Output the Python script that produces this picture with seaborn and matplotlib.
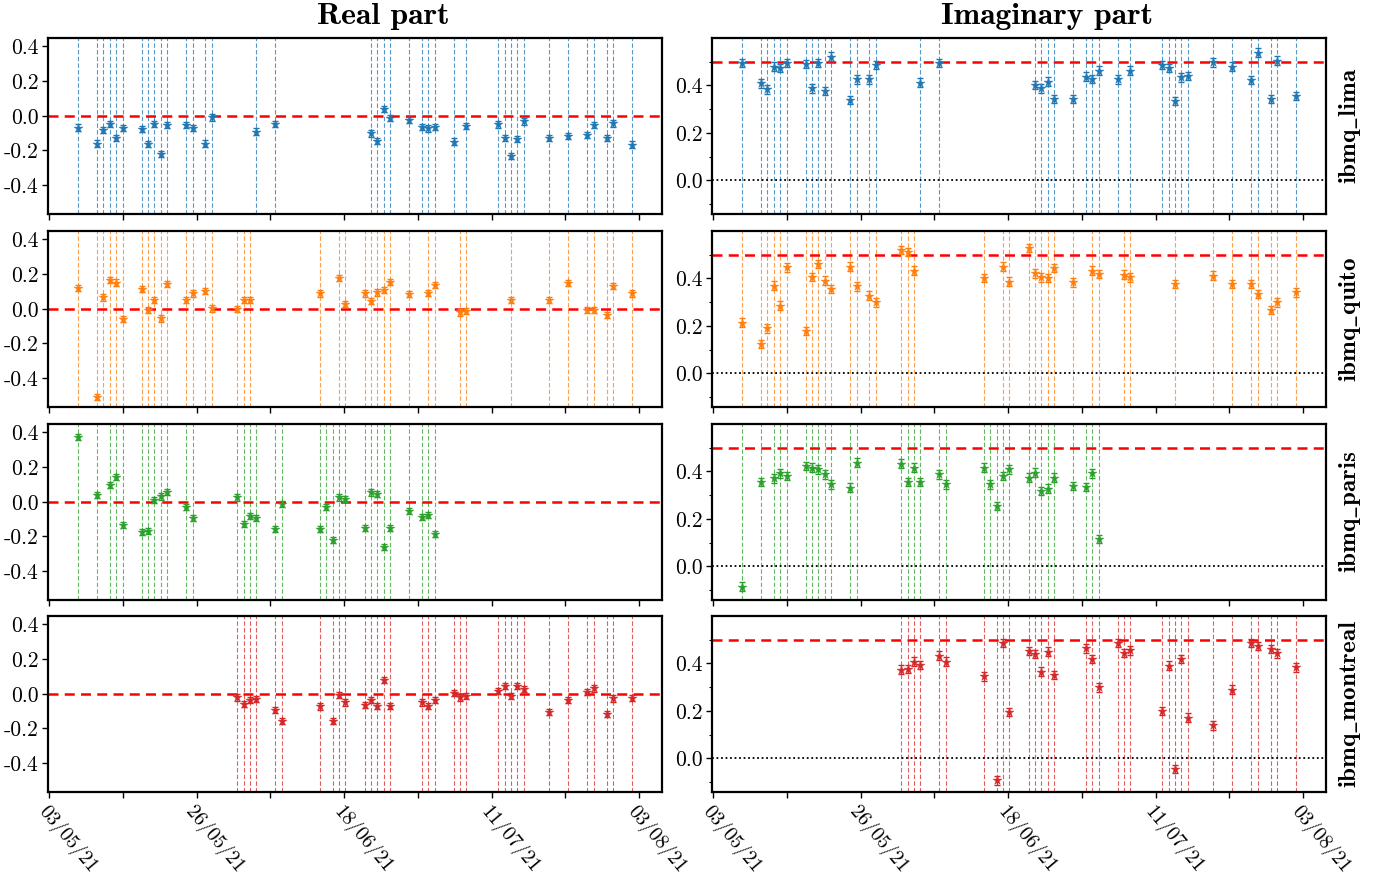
import numpy as np
import pandas as pd
import matplotlib
matplotlib.use("Agg")
import matplotlib.pyplot as plt
import seaborn as sns
from matplotlib.ticker import MultipleLocator, FormatStrFormatter
from matplotlib.mathtext import MathTextParser
from matplotlib.font_manager import FontProperties

# ---------------- data ----------------
lima_dates = ['2021-05-07','2021-05-10','2021-05-11','2021-05-12','2021-05-13','2021-05-14','2021-05-17','2021-05-18',
              '2021-05-19','2021-05-20','2021-05-21','2021-05-24','2021-05-25','2021-05-27','2021-05-28','2021-06-04',
              '2021-06-07','2021-06-22','2021-06-23','2021-06-24','2021-06-25','2021-06-28','2021-06-30','2021-07-01',
              '2021-07-02','2021-07-05','2021-07-07','2021-07-12','2021-07-13','2021-07-14','2021-07-15','2021-07-16',
              '2021-07-20','2021-07-23','2021-07-26','2021-07-27','2021-07-29','2021-07-30','2021-08-02']
lima_re = [-0.068,-0.16,-0.083,-0.048,-0.13,-0.07,-0.075,-0.164,-0.046,-0.222,-0.054,-0.054,-0.07,-0.16,-0.01,-0.091,
           -0.048,-0.102,-0.145,0.039,-0.015,-0.025,-0.064,-0.073,-0.064,-0.149,-0.058,-0.05,-0.126,-0.23,-0.135,-0.033,
           -0.126,-0.118,-0.112,-0.054,-0.126,-0.044,-0.166]
lima_im = [0.493,0.408,0.383,0.479,0.472,0.493,0.489,0.387,0.493,0.377,0.521,0.338,0.425,0.425,0.486,0.411,0.493,
           0.401,0.387,0.415,0.342,0.342,0.437,0.427,0.462,0.425,0.462,0.486,0.472,0.335,0.434,0.439,0.496,0.479,
           0.423,0.538,0.342,0.504,0.356]

quito_dates = ['2021-05-07','2021-05-10','2021-05-11','2021-05-12','2021-05-13','2021-05-14','2021-05-17','2021-05-18',
               '2021-05-19','2021-05-20','2021-05-21','2021-05-24','2021-05-25','2021-05-27','2021-05-28','2021-06-01',
               '2021-06-02','2021-06-03','2021-06-14','2021-06-17','2021-06-18','2021-06-21','2021-06-22','2021-06-23',
               '2021-06-24','2021-06-25','2021-06-28','2021-07-01','2021-07-02','2021-07-06','2021-07-07','2021-07-14',
               '2021-07-20','2021-07-23','2021-07-26','2021-07-27','2021-07-29','2021-07-30','2021-08-02']
quito_re = [0.119,-0.509,0.065,0.165,0.151,-0.06,0.113,-0.008,0.05,-0.056,0.144,0.05,0.088,0.103,0.002,-0.002,0.05,
            0.052,0.088,0.176,0.027,0.088,0.046,0.094,0.107,0.155,0.084,0.09,0.136,-0.021,-0.011,0.05,0.05,0.147,
            -0.006,-0.008,-0.036,0.132,0.088]
quito_im = [0.214,0.123,0.19,0.369,0.285,0.446,0.179,0.405,0.461,0.39,0.355,0.449,0.366,0.327,0.299,0.52,0.51,0.432,
            0.401,0.449,0.386,0.528,0.421,0.404,0.401,0.444,0.383,0.432,0.418,0.415,0.404,0.376,0.411,0.376,0.376,
            0.334,0.266,0.299,0.341]

paris_dates = ['2021-05-07','2021-05-10','2021-05-12','2021-05-13','2021-05-14','2021-05-17','2021-05-18','2021-05-19',
               '2021-05-20','2021-05-21','2021-05-24','2021-05-25','2021-06-01','2021-06-02','2021-06-03','2021-06-04',
               '2021-06-07','2021-06-08','2021-06-14','2021-06-15','2021-06-16','2021-06-17','2021-06-18','2021-06-21',
               '2021-06-22','2021-06-23','2021-06-24','2021-06-25','2021-06-28','2021-06-30','2021-07-01','2021-07-02']
paris_re = [0.371,0.04,0.098,0.142,-0.132,-0.174,-0.17,0.011,0.031,0.056,-0.031,-0.094,0.025,-0.126,-0.084,-0.094,
            -0.155,-0.011,-0.157,-0.031,-0.222,0.025,0.017,-0.151,0.054,0.046,-0.26,-0.151,-0.052,-0.088,-0.075,-0.184]
paris_im = [-0.085,0.355,0.37,0.392,0.38,0.423,0.415,0.408,0.387,0.345,0.331,0.437,0.432,0.356,0.415,0.355,0.387,
            0.345,0.415,0.345,0.254,0.38,0.408,0.373,0.394,0.317,0.327,0.373,0.338,0.334,0.392,0.115]

montreal_dates = ['2021-06-01','2021-06-02','2021-06-03','2021-06-04','2021-06-07','2021-06-08','2021-06-14','2021-06-16',
                  '2021-06-17','2021-06-18','2021-06-21','2021-06-22','2021-06-23','2021-06-24','2021-06-25','2021-06-30',
                  '2021-07-01','2021-07-02','2021-07-05','2021-07-06','2021-07-07','2021-07-12','2021-07-13','2021-07-14',
                  '2021-07-15','2021-07-16','2021-07-20','2021-07-23','2021-07-26','2021-07-27','2021-07-29','2021-07-30',
                  '2021-08-02']
montreal_re = [-0.021,-0.059,-0.036,-0.03,-0.092,-0.159,-0.073,-0.155,-0.008,-0.05,-0.063,-0.036,-0.069,0.08,-0.069,
               -0.05,-0.069,-0.036,0.004,-0.021,-0.015,0.017,0.046,-0.015,0.046,0.027,-0.103,-0.034,0.011,0.031,
               -0.117,-0.027,-0.025]
montreal_im = [0.373,0.376,0.407,0.393,0.432,0.407,0.345,-0.092,0.485,0.196,0.451,0.439,0.365,0.449,0.351,0.463,0.418,
               0.299,0.486,0.444,0.454,0.2,0.39,-0.044,0.418,0.172,0.139,0.289,0.486,0.472,0.461,0.442,0.383]

devices = ['ibmq_lima', 'ibmq_quito', 'ibmq_paris', 'ibmq_montreal']
col_titles = ['Real part', 'Imaginary part']
xtick_labels = ['03/05/21', '', '26/05/21', '', '18/06/21', '', '11/07/21', '', '03/08/21']
err_re = 0.018
err_im = 0.018

rows = [(lima_dates, lima_re, lima_im), (quito_dates, quito_re, quito_im),
        (paris_dates, paris_re, paris_im), (montreal_dates, montreal_re, montreal_im)]

# ---------------- style ----------------
sns.set_theme(style="ticks", rc={"axes.edgecolor": "black", "xtick.color": "black",
                                 "ytick.color": "black", "text.color": "black"})
plt.rcParams['font.family'] = ['cmr10', 'DejaVu Serif']
plt.rcParams['mathtext.fontset'] = 'cm'
plt.rcParams['axes.unicode_minus'] = False
plt.rcParams['axes.formatter.use_mathtext'] = False

colors = sns.color_palette("tab10")[:4]

def to_sec(dates):
    t = pd.to_datetime(dates) + pd.Timedelta(hours=12)
    return (t - pd.Timestamp('1970-01-01')).total_seconds().values

xtick_pos = [1620000000 + k * 1000000 for k in range(9)]
xlim = (1619980000, 1628310000)
ylims = [(-0.566, 0.448), (-0.141, 0.599)]

fig = plt.figure(figsize=(13.92, 8.84), dpi=100)
W, H = 1392.0, 884.0
col_x = [47.8, 711.8]
col_w = 614.0
row_top = [38, 231, 424, 616]
row_h = 176.0

def row_label(name):
    s = r'$\mathbf{' + name.replace('_', r'\_') + '}$'
    try:
        MathTextParser('path').parse(s, dpi=100, prop=FontProperties(size=16))
        return s, {}
    except Exception:
        return name, {'family': 'DejaVu Serif', 'weight': 'bold'}

for r, (dates, re_v, im_v) in enumerate(rows):
    xs = to_sec(dates)
    c = colors[r]
    for ci, vals in enumerate([re_v, im_v]):
        rect = [col_x[ci] / W, 1 - (row_top[r] + row_h) / H, col_w / W, row_h / H]
        ax = fig.add_axes(rect)
        for x in xs:
            ax.axvline(x, color=c, lw=0.8, ls=(0, (4, 2)), alpha=0.75, zorder=1)
        if ci == 0:
            ax.axhline(0.0, color='red', lw=1.8, ls=(0, (4, 2.5)), zorder=2)
        else:
            ax.axhline(0.5, color='red', lw=1.8, ls=(0, (4, 2.5)), zorder=2)
            ax.axhline(0.0, color='black', lw=1.3, ls=(0, (1, 1.5)), zorder=2)
        err = err_re if ci == 0 else err_im
        ax.errorbar(xs, vals, yerr=err, fmt='none', ecolor=c, elinewidth=1.0,
                    capsize=2.2, capthick=1.0, zorder=3)
        sns.scatterplot(x=xs, y=vals, ax=ax, marker='*', s=45, color=c,
                        edgecolor=c, linewidth=0.3, zorder=4, legend=False)
        ax.set_xlim(*xlim)
        ax.set_ylim(*ylims[ci])
        ax.set_xticks(xtick_pos)
        if r == 3:
            ax.set_xticklabels(xtick_labels, rotation=-50, ha='left', va='top',
                               rotation_mode='anchor', fontsize=14.5)
        else:
            ax.set_xticklabels([])
        ax.yaxis.set_major_locator(MultipleLocator(0.2))
        if ci == 1:
            ax.yaxis.set_minor_locator(MultipleLocator(0.1))
        ax.yaxis.set_major_formatter(FormatStrFormatter('%.1f'))
        ax.tick_params(axis='both', which='major', direction='out', length=4.5, width=1.0,
                       labelsize=15.5, pad=2)
        ax.tick_params(axis='x', which='major', labelsize=14.5, pad=3)
        ax.tick_params(axis='y', which='minor', direction='out', length=2.5, width=0.8)
        for sp in ax.spines.values():
            sp.set_linewidth(1.6)
            sp.set_color('black')
        ax.set_xlabel('')
        ax.set_ylabel('')
        ax.grid(False)
        if ci == 1:
            s, kw = row_label(devices[r])
            fig.text(1350 / W, 1 - (row_top[r] + row_h / 2) / H, s, rotation=90,
                     ha='center', va='center', fontsize=18, **kw)

fig.text(383 / W, 1 - 17 / H, col_titles[0], family='cmb10', fontsize=22.8, ha='center', va='center')
fig.text(1047 / W, 1 - 17 / H, col_titles[1], family='cmb10', fontsize=22.8, ha='center', va='center')

fig.savefig('out.png', dpi=100)
